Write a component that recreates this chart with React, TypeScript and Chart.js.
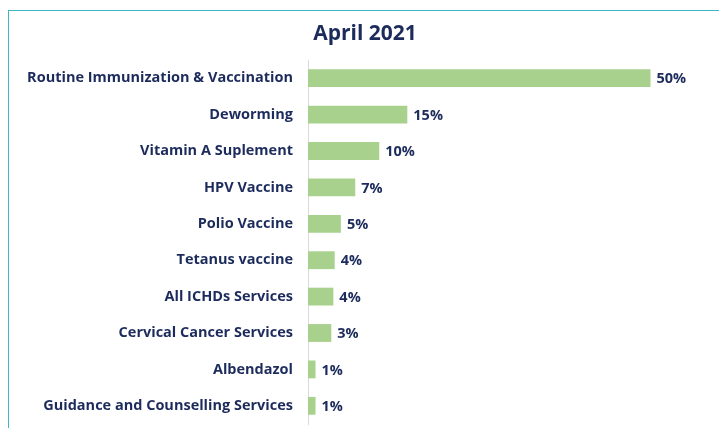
import React, { useEffect, useRef } from "react";
import { Chart, registerables } from "chart.js";

Chart.register(...registerables);

const categories = [
  "Routine Immunization & Vaccination",
  "Deworming",
  "Vitamin A Suplement",
  "HPV Vaccine",
  "Polio Vaccine",
  "Tetanus vaccine",
  "All ICHDs Services",
  "Cervical Cancer Services",
  "Albendazol",
  "Guidance and Counselling Services",
];
const values = [50, 14.5, 10.4, 6.9, 4.8, 3.9, 3.7, 3.4, 1.1, 1.1];
const title = "April 2021";

const NAVY = "#1c2b5c";
const FONT = "'Open Sans', Lato, sans-serif";

const labelPlugin = {
  id: "barLabels",
  afterDatasetsDraw(chart: any) {
    const ctx = chart.ctx;
    const meta = chart.getDatasetMeta(0);
    ctx.save();
    ctx.font = `bold 14.5px ${FONT}`;
    ctx.fillStyle = NAVY;
    ctx.textAlign = "left";
    ctx.textBaseline = "middle";
    meta.data.forEach((bar: any, i: number) => {
      ctx.fillText(Math.round(values[i]) + "%", bar.x + 6, bar.y + 1);
    });
    ctx.font = `bold 21px ${FONT}`;
    ctx.textAlign = "center";
    ctx.fillText(title, 365, 34);
    ctx.restore();
  },
};

export default function App() {
  const ref = useRef<HTMLCanvasElement>(null);
  useEffect(() => {
    if (!ref.current) return;
    const chart = new Chart(ref.current, {
      type: "bar",
      data: {
        labels: categories,
        datasets: [
          {
            data: values,
            backgroundColor: "#a9d18e",
            borderWidth: 0,
            categoryPercentage: 1,
            barPercentage: 0.49,
          },
        ],
      },
      options: {
        indexAxis: "y",
        animation: false,
        responsive: true,
        maintainAspectRatio: false,
        layout: { padding: { left: 0, right: 0, top: 60, bottom: 4 } },
        plugins: {
          legend: { display: false },
          tooltip: { enabled: false },
          title: { display: false },
        },
        scales: {
          x: {
            display: false,
            min: 0,
            max: 60,
          },
          y: {
            grid: { display: false, drawTicks: false },
            border: { display: true, color: "#d9d9d9", width: 1 },
            ticks: {
              color: NAVY,
              padding: 15,
              font: { family: FONT, size: 14.5, weight: "bold" },
            },
            afterFit(scale: any) {
              scale.width = 308;
              scale.paddingTop = 0;
              scale.paddingBottom = 0;
            },
          },
        },
      },
      plugins: [labelPlugin],
    });
    return () => chart.destroy();
  }, []);

  return (
    <div>
      <div
        style={{
          position: "fixed",
          left: 8,
          top: 10,
          width: 800,
          height: 500,
          borderTop: "1.5px solid #3fb6c3",
          borderLeft: "1.5px solid #3fb6c3",
          background: "#fff",
        }}
      />
      <div style={{ position: "fixed", left: 0, top: 0, width: 719, height: 428 }}>
        <canvas ref={ref} />
      </div>
    </div>
  );
}
